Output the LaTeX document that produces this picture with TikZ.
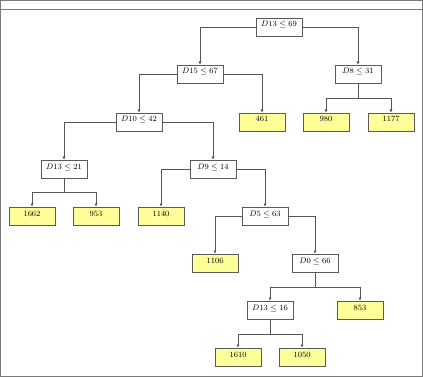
\documentclass[tikz,border=0pt]{standalone}
\usetikzlibrary{arrows.meta}
\definecolor{framegray}{HTML}{7A7A7A}
\definecolor{boxgray}{HTML}{5A5A5A}
\definecolor{edgegray}{HTML}{555555}
\definecolor{leafyellow}{HTML}{FFFF99}
\begin{document}
\begin{tikzpicture}[x=1pt,y=-1pt,
  base/.style={draw=boxgray, line width=0.6pt, minimum width=46pt, minimum height=18pt,
    inner xsep=2pt, inner ysep=1pt, text height=8pt, text depth=8pt, font=\footnotesize},
  split/.style={base, fill=white},
  leaf/.style={base, fill=leafyellow},
  edge/.style={draw=edgegray, line width=0.6pt, -{Latex[length=3.2pt,width=3pt]}}
]
\useasboundingbox (0,0) rectangle (423,377);
\draw[framegray, line width=1pt] (0.5,0.5) rectangle (422.5,376.5);
\draw[framegray, line width=1pt] (0.5,9.5) -- (422.5,9.5);

\node[split] (r)   at (279,27)  {$D13 \leq 69$};
\node[split] (d15) at (200,74)  {$D15 \leq 67$};
\node[split] (d8)  at (358,74)  {$D8 \leq 31$};
\node[split] (d10) at (139,122) {$D10 \leq 42$};
\node[leaf]  (l461) at (262,122) {461};
\node[leaf]  (l980) at (326,122) {980};
\node[leaf]  (l1177) at (391,122) {1177};
\node[split] (d13a) at (64,169) {$D13 \leq 21$};
\node[split] (d9)  at (213,169) {$D9 \leq 14$};
\node[leaf]  (l1662) at (32,216) {1662};
\node[leaf]  (l953) at (96,216) {953};
\node[leaf]  (l1140) at (161,216) {1140};
\node[split] (d5)  at (265,216) {$D5 \leq 63$};
\node[leaf]  (l1106) at (215,263) {1106};
\node[split] (d0)  at (315,263) {$D0 \leq 66$};
\node[split] (d13b) at (270,310) {$D13 \leq 16$};
\node[leaf]  (l853) at (360,310) {853};
\node[leaf]  (l1610) at (238,357) {1610};
\node[leaf]  (l1050) at (302,357) {1050};

\draw[edge] (r.west) -| (d15.north);
\draw[edge] (r.east) -| (d8.north);
\draw[edge] (d15.west) -| (d10.north);
\draw[edge] (d15.east) -| (l461.north);
\draw[edge] (d8.south) -- ++(0,15) -| (l980.north);
\draw[edge] (d8.south) -- ++(0,15) -| (l1177.north);
\draw[edge] (d10.west) -| (d13a.north);
\draw[edge] (d10.east) -| (d9.north);
\draw[edge] (d13a.south) -- ++(0,14) -| (l1662.north);
\draw[edge] (d13a.south) -- ++(0,14) -| (l953.north);
\draw[edge] (d9.west) -| (l1140.north);
\draw[edge] (d9.east) -| (d5.north);
\draw[edge] (d5.west) -| (l1106.north);
\draw[edge] (d5.east) -| (d0.north);
\draw[edge] (d0.south) -- ++(0,15) -| (d13b.north);
\draw[edge] (d0.south) -- ++(0,15) -| (l853.north);
\draw[edge] (d13b.south) -- ++(0,15) -| (l1610.north);
\draw[edge] (d13b.south) -- ++(0,15) -| (l1050.north);
\end{tikzpicture}
\end{document}
